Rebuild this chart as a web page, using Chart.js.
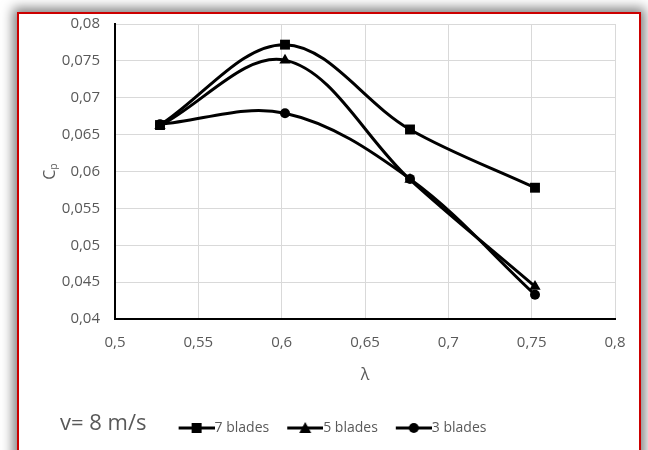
<!DOCTYPE html>
<html>
<head>
<meta charset="utf-8">
<script src="https://cdn.jsdelivr.net/npm/chart.js@4.4.1/dist/chart.umd.min.js"></script>
<style>
  html, body { margin: 0; padding: 0; background: #fff; overflow: hidden; }
  #frame {
    position: absolute; left: 17px; top: 12px; width: 620px; height: 470px;
    border: 2px solid #cc0000; background: #fff;
    box-shadow: 0 0 11px 4px rgba(0, 0, 0, 0.5);
  }
  #chart { position: absolute; left: 0; top: 0; }
  #speed {
    position: absolute; left: 60px; top: 408px; line-height: 26px;
    font-family: 'Open Sans', sans-serif; font-size: 22px; color: #595959;
  }
</style>
</head>
<body>
<div id="frame"></div>
<canvas id="chart" width="648" height="450"></canvas>
<div id="speed">v= 8 m/s</div>
<script>
// valeurs
const lambda = [0.527, 0.602, 0.677, 0.752];
const cp7 = [0.0663, 0.0772, 0.0657, 0.0578];
const cp5 = [0.0662, 0.0751, 0.0589, 0.0444];
const cp3 = [0.0664, 0.0679, 0.0590, 0.0433];
const seriesNames = ['7 blades', '5 blades', '3 blades'];
const xTickLabels = ['0,5', '0,55', '0,6', '0,65', '0,7', '0,75', '0,8'];
const yTickLabels = ['0,04', '0,045', '0,05', '0,055', '0,06', '0,065', '0,07', '0,075', '0,08'];

const textColor = '#595959';
const gridColor = '#d9d9d9';

function toPoints(ys) {
    return lambda.map((x, i) => ({ x: x, y: ys[i] }));
}

// petite icone de légende : trait + marqueur au milieu
function legendIcon(style) {
    const c = document.createElement('canvas');
    c.width = 43;
    c.height = 14;
    const g = c.getContext('2d');
    g.strokeStyle = '#000';
    g.fillStyle = '#000';
    g.lineWidth = 3;
    g.beginPath();
    g.moveTo(7, 7);
    g.lineTo(43, 7);
    g.stroke();
    const cx = 25, cy = 7;
    g.beginPath();
    if (style === 'rect') {
        g.rect(cx - 5, cy - 5, 10, 10);
    } else if (style === 'triangle') {
        g.moveTo(cx, cy - 6);
        g.lineTo(cx + 6, cy + 5);
        g.lineTo(cx - 6, cy + 5);
        g.closePath();
    } else {
        g.arc(cx, cy, 5, 0, Math.PI * 2);
    }
    g.fill();
    return c;
}

const markerStyles = ['rect', 'triangle', 'circle'];
const markerSizes = [7, 6.5, 5];
const icons = markerStyles.map(legendIcon);

const ctx = document.getElementById('chart');
const chart = new Chart(ctx, {
    type: 'line',
    data: {
        datasets: [cp7, cp5, cp3].map((ys, i) => ({
            label: seriesNames[i],
            data: toPoints(ys),
            borderColor: '#000',
            backgroundColor: '#000',
            borderWidth: 3,
            tension: 0.35,
            pointStyle: markerStyles[i],
            pointRadius: markerSizes[i],
            pointBorderWidth: 0,
            pointBackgroundColor: '#000'
        }))
    },
    options: {
        responsive: false,
        animation: false,
        events: [],
        layout: {
            padding: { left: 50, right: 33, top: 23, bottom: 5 }
        },
        scales: {
            x: {
                type: 'linear',
                min: 0.5,
                max: 0.8,
                afterFit: (scale) => { scale.height = 84; },
                ticks: {
                    stepSize: 0.05,
                    padding: 15,
                    color: textColor,
                    font: { family: 'Open Sans', size: 15 },
                    callback: (v, i) => xTickLabels[i]
                },
                grid: { color: gridColor, lineWidth: 1, drawTicks: false },
                border: { color: '#000', width: 2 },
                title: {
                    display: true,
                    text: 'λ',
                    color: textColor,
                    font: { family: 'Open Sans', size: 16 },
                    padding: { top: 0, bottom: 18 }
                }
            },
            y: {
                min: 0.04,
                max: 0.08,
                afterFit: (scale) => { scale.width = 65; },
                ticks: {
                    stepSize: 0.005,
                    padding: 15,
                    color: textColor,
                    font: { family: 'Open Sans', size: 15 },
                    callback: (v, i) => yTickLabels[i]
                },
                grid: { color: gridColor, lineWidth: 1, drawTicks: false },
                border: { color: '#000', width: 2 },
                title: {
                    display: true,
                    text: 'Cₚ',
                    color: textColor,
                    font: { family: 'Open Sans', size: 16 },
                    padding: { top: -9.6, bottom: 0 }
                }
            }
        },
        plugins: {
            tooltip: { enabled: false },
            legend: {
                position: 'bottom',
                labels: {
                    usePointStyle: true,
                    pointStyleWidth: 29,
                    padding: 18,
                    color: textColor,
                    font: { family: 'Open Sans', size: 14 },
                    generateLabels: (ch) => {
                        const items = Chart.defaults.plugins.legend.labels.generateLabels(ch);
                        items.forEach((item, i) => { item.pointStyle = icons[i]; });
                        return items;
                    }
                }
            }
        }
    }
});
</script>
</body>
</html>
